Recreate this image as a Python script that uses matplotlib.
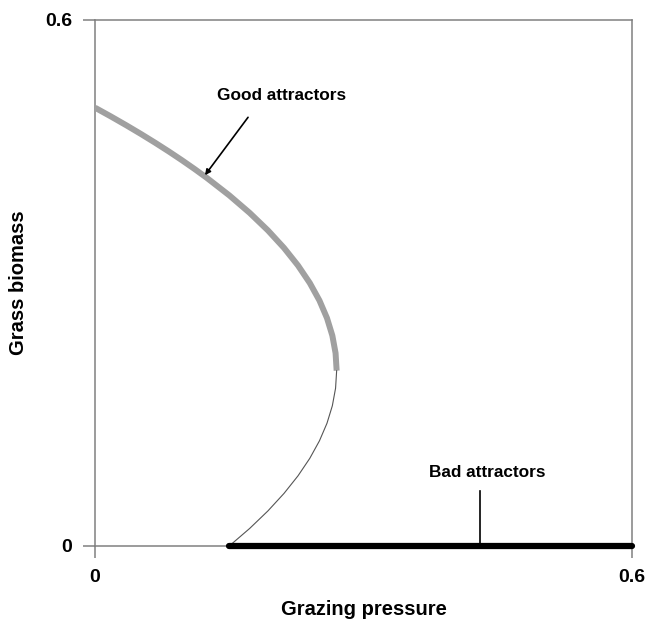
import matplotlib
matplotlib.use("Agg")
import matplotlib.pyplot as plt

plt.rcParams['font.family'] = ['Liberation Sans', 'DejaVu Sans']

# Stable (upper) branch of grass equilibria
good_x = [0.000, 0.0177, 0.0348, 0.0513, 0.0672, 0.0825, 0.0972, 0.1113,
          0.1248, 0.150, 0.1728, 0.1932, 0.2112, 0.2268, 0.240, 0.2508,
          0.2592, 0.2652, 0.2688, 0.270]
good_y = [0.50, 0.49, 0.48, 0.47, 0.46, 0.45, 0.44, 0.43,
          0.42, 0.40, 0.38, 0.36, 0.34, 0.32, 0.30, 0.28,
          0.26, 0.24, 0.22, 0.20]

# Unstable (middle) branch
unstable_x = [0.270, 0.2688, 0.2652, 0.2592, 0.2508, 0.240, 0.2268,
              0.2112, 0.1932, 0.1728, 0.150]
unstable_y = [0.20, 0.18, 0.16, 0.14, 0.12, 0.10, 0.08,
              0.06, 0.04, 0.02, 0.00]

# Degraded state: zero grass biomass
bad_x = [0.150, 0.6]
bad_y = [0.0, 0.0]

ticks = [0, 0.6]
tick_labels = ["0", "0.6"]

fig = plt.figure(figsize=(6.48, 6.23), dpi=100)
ax = fig.add_axes([0.1466, 0.1236, 0.8287, 0.8443])

ax.plot(good_x, good_y, color="#a0a0a0", lw=4.3, solid_capstyle="butt",
        solid_joinstyle="round", zorder=3)
ax.plot(unstable_x, unstable_y, color="#555555", lw=0.8, zorder=3)
ax.plot(bad_x, bad_y, color="black", lw=4.5, solid_capstyle="round", zorder=4, clip_on=False)

ax.set_xlim(0, 0.6)
ax.set_ylim(0, 0.6)
ax.set_xticks(ticks)
ax.set_xticklabels(tick_labels)
ax.set_yticks(ticks)
ax.set_yticklabels(tick_labels)

for s in ax.spines.values():
    s.set_color("#808080")
    s.set_linewidth(1.1)

ax.tick_params(direction="out", length=8.6, width=1.1, color="#808080",
               labelsize=14, pad=8)
for lab in ax.get_xticklabels() + ax.get_yticklabels():
    lab.set_fontweight("bold")

ax.set_xlabel("Grazing pressure", fontsize=14.5, fontweight="bold", labelpad=10)
ax.set_ylabel("Grass biomass", fontsize=14.5, fontweight="bold", labelpad=12)

ax.text(0.208, 0.514, "Good attractors", ha="center", va="center",
        fontsize=12.4, fontweight="bold")
ax.annotate("", xy=(0.1229, 0.423), xytext=(0.171, 0.489),
            arrowprops=dict(arrowstyle="-|>", color="black", lw=1.2,
                            mutation_scale=8, shrinkA=0, shrinkB=0))

ax.text(0.438, 0.0833, "Bad attractors", ha="center", va="center",
        fontsize=12.4, fontweight="bold")
ax.plot([0.430, 0.430], [0.0627, 0.0], color="black", lw=1.2, zorder=5)
ax.plot([0.430], [0.0], marker="o", ms=3, color="black", zorder=5)

fig.savefig("out.png", dpi=100)
